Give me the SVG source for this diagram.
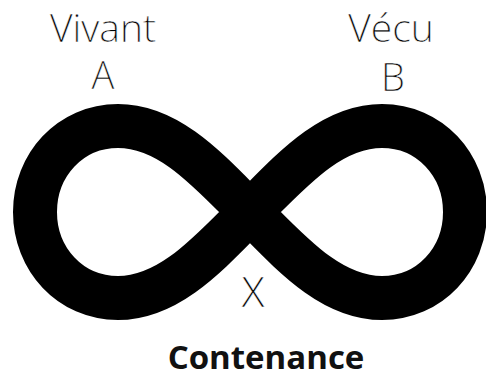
<svg xmlns="http://www.w3.org/2000/svg" width="486" height="378" viewBox="0 0 486 378">
<style>
.lbl{font-family:"Open Sans","Liberation Sans",sans-serif;font-weight:300;fill:#000;stroke:#fff;stroke-width:0.45;text-anchor:middle}
.ttl{font-family:"Open Sans","Liberation Sans",sans-serif;font-weight:700;fill:#111;text-anchor:middle}
.inf{fill:none;stroke:#000;stroke-width:44;stroke-linejoin:round}
</style>
<rect width="486" height="378" fill="#fff"/>
<g id="connectors">
<path class="inf" d="M250,212 C290,172 330,126 382,126 C430,126 465,165 465,212 C465,259 430,298 382,298 C330,298 290,252 250,212 C210,172 170,126 118,126 C70,126 35,165 35,212 C35,259 70,298 118,298 C170,298 210,252 250,212 Z"/>
</g>
<g id="nodeA">
<text class="lbl" x="103" y="42" font-size="39">Vivant</text>
<text class="lbl" x="103" y="89" font-size="38">A</text>
</g>
<g id="nodeB">
<text class="lbl" x="391" y="42" font-size="39">Vécu</text>
<text class="lbl" x="393" y="91" font-size="38">B</text>
</g>
<g id="nodeX">
<text class="lbl" x="253" y="307" font-size="42">X</text>
</g>
<g id="title">
<text class="ttl" x="266" y="369" font-size="33">Contenance</text>
</g>
</svg>
